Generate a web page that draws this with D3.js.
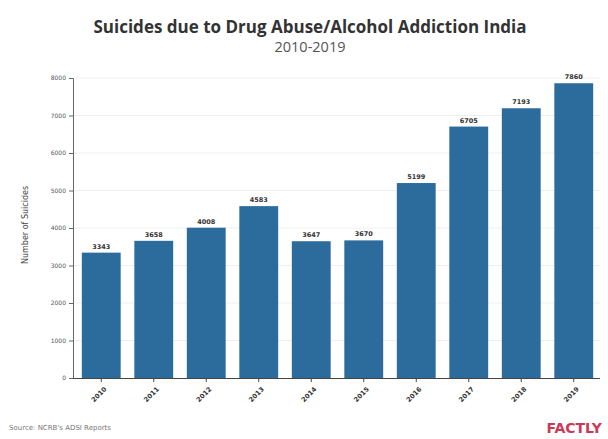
<!DOCTYPE html>
<html><head><meta charset="utf-8">
<script src="https://cdn.jsdelivr.net/npm/d3@7"></script>
<style>body{margin:0;background:#fff}</style>
</head><body>
<script>
const years = ["2010","2011","2012","2013","2014","2015","2016","2017","2018","2019"];
const suicides = [3343,3658,4008,4583,3647,3670,5199,6705,7193,7860];
const yTicks = [0,1000,2000,3000,4000,5000,6000,7000,8000];
const title = "Suicides due to Drug Abuse/Alcohol Addiction India";
const subtitle = "2010-2019";
const source = "Source: NCRB's ADSI Reports";

const W=608,H=439;
const svg=d3.select("body").append("svg").attr("width",W).attr("height",H);
const x=d3.scaleBand().domain(years).range([75,600]).paddingInner(0.26).paddingOuter(0.13);
const y=d3.scaleLinear().domain([0,8000]).range([378,78]);

svg.append("g").selectAll("line").data(yTicks.slice(1)).join("line")
  .attr("x1",74).attr("x2",600).attr("y1",d=>y(d)).attr("y2",d=>y(d))
  .attr("stroke","#efefef").attr("stroke-width",1);

svg.append("g").selectAll("rect").data(years).join("rect")
  .attr("x",d=>x(d)).attr("width",x.bandwidth())
  .attr("y",(d,i)=>y(suicides[i])).attr("height",(d,i)=>y(0)-y(suicides[i]))
  .attr("fill","#2b6c9c");

svg.append("g").selectAll("text").data(years).join("text")
  .attr("x",d=>x(d)+x.bandwidth()/2).attr("y",(d,i)=>y(suicides[i])-4)
  .attr("text-anchor","middle").attr("font-family","DejaVu Sans").attr("font-size",6.5).attr("font-weight","bold")
  .attr("fill","#333").text((d,i)=>suicides[i]);

const ya=svg.append("g").attr("transform","translate(73,0)")
  .call(d3.axisLeft(y).tickValues(yTicks).tickFormat(d3.format("d")).tickSize(4).tickPadding(3));
ya.selectAll("text").attr("font-family","DejaVu Sans").attr("font-size",6).attr("fill","#555");
ya.selectAll("line,path").attr("stroke","#666");

const xa=svg.append("g").attr("transform","translate(0,378)")
  .call(d3.axisBottom(x).tickSize(4).tickSizeOuter(0));
xa.select("path").attr("d","M73,0.5H600").attr("stroke","#444");
xa.selectAll("line").attr("stroke","#444");
xa.selectAll("text").attr("font-family","DejaVu Sans").attr("font-size",6.5).attr("font-weight","bold").attr("fill","#333")
  .attr("x",0).attr("y",0).attr("dy","0.35em")
  .attr("text-anchor","end").attr("transform","translate(4,10) rotate(-45)");

svg.append("text").attr("transform","translate(28,225) rotate(-90)").attr("text-anchor","middle")
  .attr("font-family","DejaVu Sans").attr("font-size",8).attr("fill","#444").text("Number of Suicides");

svg.append("text").attr("x",310).attr("y",33).attr("text-anchor","middle")
  .attr("font-family","Open Sans").attr("font-weight","bold").attr("font-size",17).attr("fill","#333").text(title);
svg.append("text").attr("x",310).attr("y",52).attr("text-anchor","middle")
  .attr("font-family","Open Sans").attr("font-size",14.5).attr("fill","#555").text(subtitle);

svg.append("text").attr("x",9).attr("y",430).attr("font-family","DejaVu Sans").attr("font-size",7).attr("fill","#777").text(source);
svg.append("text").attr("x",602).attr("y",433).attr("text-anchor","end")
  .attr("font-family","DejaVu Sans").attr("font-weight","bold").attr("font-size",14).attr("fill","#c93a55").text("FACTLY");
</script>
</body></html>
